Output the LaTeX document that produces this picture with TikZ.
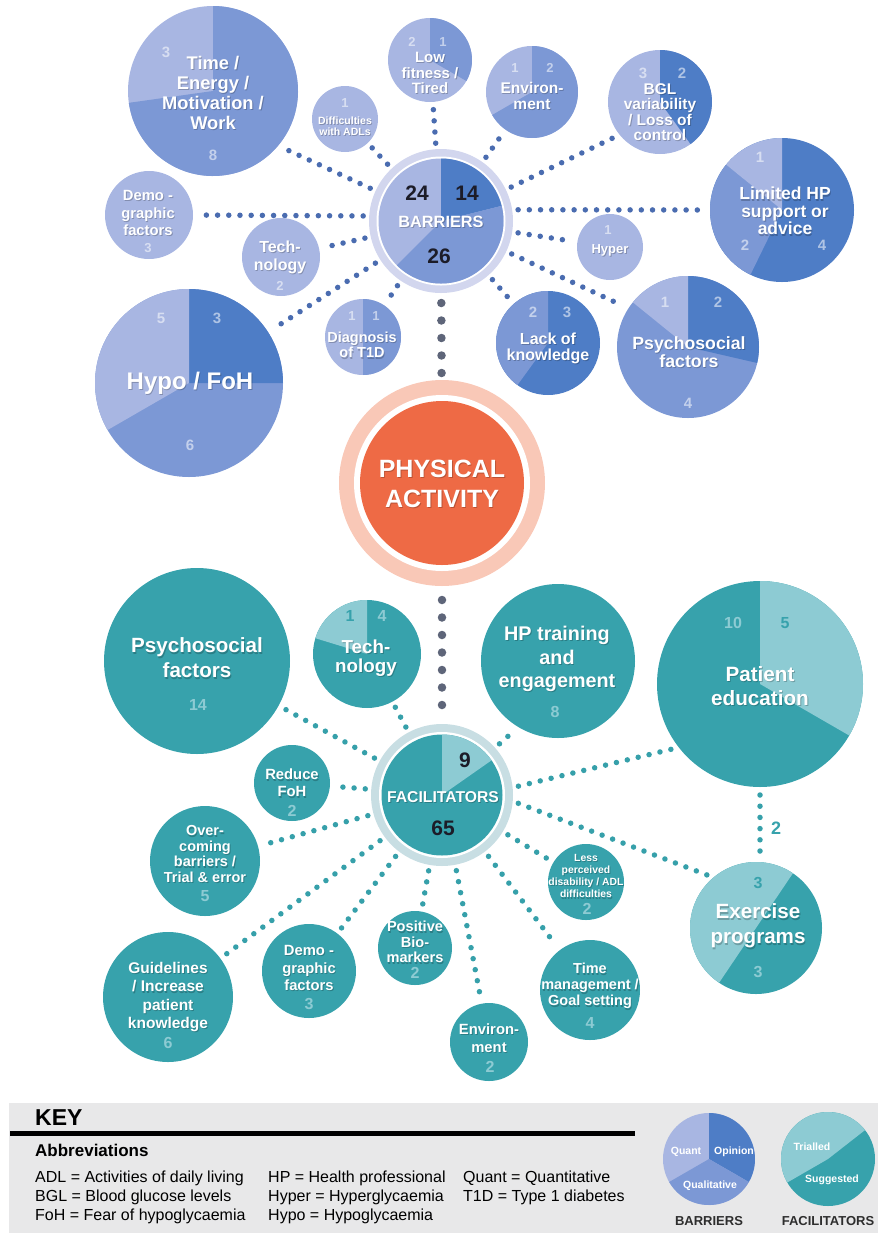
\documentclass[tikz,border=0pt]{standalone}
\usepackage{fontspec}
\setmainfont{Liberation Sans}
\usetikzlibrary{calc}

% palette
\definecolor{bQ}{HTML}{A8B6E2}
\definecolor{bL}{HTML}{7C98D5}
\definecolor{bO}{HTML}{4E7DC6}
\definecolor{bRing}{HTML}{D2D6EE}
\definecolor{bDot}{HTML}{4A6CB0}
\definecolor{fS}{HTML}{37A2AC}
\definecolor{fT}{HTML}{8DCBD3}
\definecolor{fRing}{HTML}{C8DEE3}
\definecolor{fDot}{HTML}{36A0AA}
\definecolor{paOr}{HTML}{EE6A45}
\definecolor{paRing}{HTML}{F9C8B7}
\definecolor{gDot}{HTML}{5E6579}
\definecolor{keyBg}{HTML}{E8E8E9}
\definecolor{hubNum}{HTML}{1C1C28}
\definecolor{keyTxt}{HTML}{2E2E2E}

\pgfdeclarelayer{bg}
\pgfsetlayers{bg,main}

\newcommand\fs[2]{\fontsize{#1}{#2}\selectfont}
% pie slice of a named disc: node, radius, start angle, end angle, colour
\newcommand\slice[5]{\fill[#5] (#1.center) -- ++(#3:#2) arc[start angle=#3, end angle=#4, radius=#2] -- cycle;}
% white label with a soft drop shadow: name, position, font, text
\newcommand\tlabel[4]{%
  \node[lblsh, font=#3] (#1-sh) at (#2) {#4};
  \node[lbl, font=#3] (#1) at (#2) {#4};}

\tikzset{
  disc/.style={circle, inner sep=0pt, outer sep=0pt, minimum size=#1},
  lbl/.style={text=white, align=center, inner sep=0pt},
  lblsh/.style={lbl, text=black, text opacity=0.22, xshift=0.9pt, yshift=-1.3pt},
  bn/.style={text=white, text opacity=0.55, inner sep=0pt, font=\fs{15}{15}\bfseries},
  bns/.style={bn, font=\fs{13}{13}\bfseries},
  fnd/.style={text=fT, inner sep=0pt, font=\fs{16}{16}\bfseries},
  fnl/.style={text=fS, inner sep=0pt, font=\fs{16}{16}\bfseries},
  hubnum/.style={text=hubNum, inner sep=0pt, font=\fs{21}{21}\bfseries},
  bdots/.style={draw=bDot, line width=5.5pt, line cap=round, dash pattern=on 0pt off 11.2pt, shorten <=6pt, shorten >=6pt},
  fdots/.style={draw=fDot, line width=5.5pt, line cap=round, dash pattern=on 0pt off 11.2pt, shorten <=6pt, shorten >=6pt},
  gdots/.style={draw=gDot, line width=8.5pt, line cap=round, dash pattern=on 0pt off 17.5pt},
  keytxt/.style={anchor=base west, inner sep=0pt, text=black, font=\fs{16}{16}},
  keypie/.style={text=white, inner sep=0pt, font=\fs{10.5}{10.5}\bfseries},
  keycap/.style={text=keyTxt, inner sep=0pt, font=\fs{13}{13}\bfseries},
}

\begin{document}
\begin{tikzpicture}[x=1pt, y=1pt]
\useasboundingbox (0,0) rectangle (878,-1235);

% ---------------- barriers ----------------
\node[disc=144pt, fill=bRing] (bhub) at (441,-221) {};
\fill[white] (bhub.center) circle[radius=64.5];
\fill[bQ] (bhub.center) circle[radius=62.5];
\slice{bhub}{62.5}{14}{90}{bO}
\slice{bhub}{62.5}{-135}{14}{bL}

\node[disc=170pt, fill=bQ] (time) at (213,-91) {};
\slice{time}{85}{-172}{90}{bL}

\node[disc=66pt, fill=bQ] (adl) at (345,-119) {};

\node[disc=84pt, fill=bQ] (lowfit) at (430,-60) {};
\slice{lowfit}{42}{-30}{90}{bL}

\node[disc=92pt, fill=bQ] (env) at (532,-92) {};
\slice{env}{46}{-150}{90}{bL}

\node[disc=104pt, fill=bQ] (bgl) at (660,-102) {};
\slice{bgl}{52}{-54}{90}{bO}

\node[disc=144pt, fill=bO] (hp) at (782,-210) {};
\slice{hp}{72}{141}{244}{bL}
\slice{hp}{72}{90}{141}{bQ}

\node[disc=66pt, fill=bQ] (hyper) at (610,-247) {};

\node[disc=142pt, fill=bL] (psyb) at (688,-347) {};
\slice{psyb}{71}{-13}{90}{bO}
\slice{psyb}{71}{90}{141}{bQ}

\node[disc=104pt, fill=bO] (lok) at (548,-343) {};
\slice{lok}{52}{90}{234}{bL}

\node[disc=76pt, fill=bQ] (diag) at (363,-337) {};
\slice{diag}{38}{-90}{90}{bL}

\node[disc=188pt, fill=bL] (hypo) at (189,-383) {};
\slice{hypo}{94}{0}{90}{bO}
\slice{hypo}{94}{90}{210}{bQ}

\node[disc=78pt, fill=bQ] (techb) at (281,-257) {};
\node[disc=88pt, fill=bQ] (demob) at (149,-215) {};

% ---------------- physical activity ----------------
\node[disc=206pt, fill=paRing] (pa) at (442,-483) {};
\fill[white] (pa.center) circle[radius=88];
\fill[paOr] (pa.center) circle[radius=82];

% ---------------- facilitators ----------------
\node[disc=142pt, fill=fRing] (fhub) at (442,-795) {};
\fill[white] (fhub.center) circle[radius=63];
\fill[fS] (fhub.center) circle[radius=60.5];
\slice{fhub}{60.5}{35}{90}{fT}

\node[disc=186pt, fill=fS] (psyf) at (197,-661) {};
\node[disc=108pt, fill=fS] (techf) at (367,-654) {};
\slice{techf}{54}{90}{163}{fT}
\node[disc=154pt, fill=fS] (hpt) at (558,-661) {};
\node[disc=206pt, fill=fS] (pe) at (760,-684) {};
\slice{pe}{103}{-30}{90}{fT}
\node[disc=132pt, fill=fS] (ex) at (756,-928) {};
\slice{ex}{66}{56}{236}{fT}
\node[disc=76pt, fill=fS] (rfoh) at (292,-783) {};
\node[disc=110pt, fill=fS] (over) at (205,-861) {};
\node[disc=130pt, fill=fS] (guid) at (168,-997) {};
\node[disc=94pt, fill=fS] (demof) at (309,-971) {};
\node[disc=74pt, fill=fS] (pbio) at (415,-948) {};
\node[disc=78pt, fill=fS] (envf) at (489,-1042) {};
\node[disc=100pt, fill=fS] (tmg) at (590,-990) {};
\node[disc=76pt, fill=fS] (lpd) at (586,-882) {};

% ---------------- connectors ----------------
\begin{pgfonlayer}{bg}
  \draw[bdots] (bhub) -- (time.-40);
  \draw[bdots] (bhub) -- (adl);
  \draw[bdots] (bhub) -- (lowfit);
  \draw[bdots] (bhub) -- (env);
  \draw[bdots] (bhub) -- (bgl.219);
  \draw[bdots] (bhub.9) -- (hp.west);
  \draw[bdots] (bhub) -- (hyper);
  \draw[bdots] (bhub) -- (psyb.147);
  \draw[bdots] (bhub) -- (lok);
  \draw[bdots] (bhub) -- (diag);
  \draw[bdots] (bhub) -- (hypo);
  \draw[bdots] (bhub) -- (techb);
  \draw[bdots] (bhub.176) -- (demob.east);

  \draw[gdots, shorten <=10pt, shorten >=6.5pt] (bhub) -- (pa);
  \draw[gdots, shorten <=14pt, shorten >=2pt] (pa) -- (fhub);

  \draw[fdots] (fhub) -- (psyf);
  \draw[fdots] (fhub) -- (techf);
  \draw[fdots] (fhub) -- (hpt.239);
  \draw[fdots] (fhub.6) -- (pe.218);
  \draw[fdots] (fhub.-5) -- (ex.130);
  \draw[fdots] (fhub) -- (lpd);
  \draw[fdots] (fhub) -- (tmg);
  \draw[fdots] (fhub) -- (envf);
  \draw[fdots] (fhub) -- (pbio);
  \draw[fdots] (fhub) -- (demof);
  \draw[fdots] (fhub) -- (guid);
  \draw[fdots] (fhub) -- (over);
  \draw[fdots] (fhub) -- (rfoh);
  \draw[fdots, shorten <=8pt, shorten >=6pt] (pe.south) -- (pe.south |- ex.north);
\end{pgfonlayer}
\node[text=fS, inner sep=0pt, font=\fs{18}{18}\bfseries] (pe-ex-n) at (776,-828) {2};

% ---------------- barrier labels ----------------
\node[hubnum] (bhub-q) at (417,-193) {24};
\node[hubnum] (bhub-o) at (467,-193) {14};
\node[hubnum] (bhub-l) at (439,-256) {26};
\tlabel{bhub-t}{441,-222}{\fs{16.3}{16.3}\bfseries}{BARRIERS}

\tlabel{time-t}{213,-93}{\fs{18.3}{20}\bfseries}{Time /\\Energy /\\Motivation /\\Work}
\node[bn] (time-n1) at (166,-52) {3};
\node[bn] (time-n2) at (213,-155) {8};

\tlabel{adl-t}{345,-126}{\fs{10.5}{11}\bfseries}{Difficulties\\with ADLs}
\node[bns] (adl-n1) at (345,-103) {1};

\tlabel{lowfit-t}{430,-73}{\fs{15}{15.5}\bfseries}{Low\\fitness /\\Tired}
\node[bns] (lowfit-n1) at (412,-42) {2};
\node[bns] (lowfit-n2) at (443,-42) {1};

\tlabel{env-t}{532,-96}{\fs{15.5}{16}\bfseries}{Environ-\\ment}
\node[bns] (env-n1) at (515,-68) {1};
\node[bns] (env-n2) at (550,-68) {2};

\tlabel{bgl-t}{660,-112}{\fs{15.5}{15.5}\bfseries}{BGL\\variability\\/ Loss of\\control}
\node[bn] (bgl-n1) at (643,-73) {3};
\node[bn] (bgl-n2) at (682,-73) {2};

\tlabel{hp-t}{785,-211}{\fs{17.5}{17.5}\bfseries}{Limited HP\\support or\\advice}
\node[bn] (hp-n1) at (760,-157) {1};
\node[bn] (hp-n2) at (745,-245) {2};
\node[bn] (hp-n3) at (822,-245) {4};

\tlabel{hyper-t}{610,-250}{\fs{13}{13}\bfseries}{Hyper}
\node[bns] (hyper-n1) at (608,-230) {1};

\tlabel{psyb-t}{689,-352}{\fs{17.7}{18.5}\bfseries}{Psychosocial\\factors}
\node[bn] (psyb-n1) at (665,-302) {1};
\node[bn] (psyb-n2) at (718,-302) {2};
\node[bn] (psyb-n3) at (688,-403) {4};

\tlabel{lok-t}{548,-348}{\fs{16}{16}\bfseries}{Lack of\\knowledge}
\node[bn] (lok-n1) at (533,-312) {2};
\node[bn] (lok-n2) at (567,-312) {3};

\tlabel{diag-t}{362,-345}{\fs{14.5}{15.5}\bfseries}{Diagnosis\\of T1D}
\node[bns] (diag-n1) at (352,-316) {1};
\node[bns] (diag-n2) at (376,-316) {1};

\tlabel{hypo-t}{190,-383}{\fs{24}{24}\bfseries}{Hypo / FoH}
\node[bn] (hypo-n1) at (161,-318) {5};
\node[bn] (hypo-n2) at (217,-318) {3};
\node[bn] (hypo-n3) at (190,-445) {6};

\tlabel{techb-t}{280,-257}{\fs{16}{18}\bfseries}{Tech-\\nology}
\node[bns] (techb-n1) at (280,-286) {2};

\tlabel{demob-t}{148,-213}{\fs{14.8}{17.5}\bfseries}{Demo -\\graphic\\factors}
\node[bns] (demob-n1) at (148,-248) {3};

% ---------------- centre label ----------------
\tlabel{pa-t}{442,-484}{\fs{25}{30}\bfseries}{PHYSICAL\\ACTIVITY}

% ---------------- facilitator labels ----------------
\node[hubnum] (fhub-t1) at (465,-760) {9};
\node[hubnum] (fhub-s1) at (443,-828) {65};
\tlabel{fhub-t}{443,-797}{\fs{15.7}{15.7}\bfseries}{FACILITATORS}

\tlabel{psyf-t}{197,-658}{\fs{20.6}{25}\bfseries}{Psychosocial\\factors}
\node[fnd] (psyf-n1) at (198,-705) {14};

\tlabel{techf-t}{366,-658}{\fs{18.8}{19.5}\bfseries}{Tech-\\nology}
\node[fnl] (techf-n1) at (350,-616) {1};
\node[fnd] (techf-n2) at (382,-616) {4};

\tlabel{hpt-t}{557,-659}{\fs{19.8}{23.5}\bfseries}{HP training\\and\\engagement}
\node[fnd] (hpt-n1) at (555,-712) {8};

\tlabel{pe-t}{760,-686}{\fs{20.7}{24}\bfseries}{Patient\\education}
\node[fnd] (pe-n1) at (733,-623) {10};
\node[fnl] (pe-n2) at (785,-623) {5};

\tlabel{ex-t}{758,-926}{\fs{20.6}{25}\bfseries}{Exercise\\programs}
\node[fnl] (ex-n1) at (758,-883) {3};
\node[fnd] (ex-n2) at (758,-972) {3};

\tlabel{rfoh-t}{292,-783}{\fs{14.8}{17}\bfseries}{Reduce\\FoH}
\node[fnd] (rfoh-n1) at (292,-811) {2};

\tlabel{over-t}{205,-854}{\fs{14.5}{15.5}\bfseries}{Over-\\coming\\barriers /\\Trial \& error}
\node[fnd] (over-n1) at (205,-896) {5};

\tlabel{guid-t}{168,-997}{\fs{15.5}{18.3}\bfseries}{Guidelines\\/ Increase\\patient\\knowledge}
\node[fnd] (guid-n1) at (168,-1043) {6};

\tlabel{demof-t}{309,-968}{\fs{14.8}{17.5}\bfseries}{Demo -\\graphic\\factors}
\node[fnd] (demof-n1) at (309,-1004) {3};

\tlabel{pbio-t}{415,-942}{\fs{14.6}{15.5}\bfseries}{Positive\\Bio-\\markers}
\node[fnd] (pbio-n1) at (415,-973) {2};

\tlabel{envf-t}{489,-1038}{\fs{14.8}{18}\bfseries}{Environ-\\ment}
\node[fnd] (envf-n1) at (490,-1067) {2};

\tlabel{tmg-t}{590,-986}{\fs{14.5}{16}\bfseries}{Time\\management /\\Goal setting}
\node[fnd] (tmg-n1) at (590,-1023) {4};

\tlabel{lpd-t}{586,-876}{\fs{10.4}{12.3}\bfseries}{Less\\perceived\\disability / ADL\\difficulties}
\node[fnd] (lpd-n1) at (587,-909) {2};

% ---------------- key ----------------
\fill[keyBg] (9,-1103) rectangle (878,-1233);
\draw[line width=5pt] (10,-1133) -- (635,-1133);
\node[keytxt, font=\fs{23}{23}\bfseries] (key-h) at (35,-1125) {KEY};
\node[keytxt, font=\fs{17}{17}\bfseries] (key-ab) at (35,-1156) {Abbreviations};
\node[keytxt] (key-a1) at (35,-1182) {ADL = Activities of daily living};
\node[keytxt] (key-a2) at (35,-1201) {BGL = Blood glucose levels};
\node[keytxt] (key-a3) at (35,-1220) {FoH = Fear of hypoglycaemia};
\node[keytxt] (key-b1) at (268,-1182) {HP = Health professional};
\node[keytxt] (key-b2) at (268,-1201) {Hyper = Hyperglycaemia};
\node[keytxt] (key-b3) at (268,-1220) {Hypo = Hypoglycaemia};
\node[keytxt] (key-c1) at (463,-1182) {Quant = Quantitative};
\node[keytxt] (key-c2) at (463,-1201) {T1D = Type 1 diabetes};

\node[disc=92pt, fill=bQ] (kb) at (709,-1159) {};
\slice{kb}{46}{-30}{90}{bO}
\slice{kb}{46}{-150}{-30}{bL}
\node[keypie] (kb-q) at (686,-1152) {Quant};
\node[keypie] (kb-o) at (734,-1152) {Opinion};
\node[keypie] (kb-l) at (710,-1186) {Qualitative};
\node[keycap] (kb-c) at (709,-1221) {BARRIERS};

\node[disc=94pt, fill=fS] (kf) at (828,-1159) {};
\slice{kf}{47}{38}{210}{fT}
\node[keypie] (kf-t) at (812,-1147) {Trialled};
\node[keypie] (kf-s) at (832,-1180) {Suggested};
\node[keycap] (kf-c) at (828,-1221) {FACILITATORS};
\end{tikzpicture}
\end{document}
